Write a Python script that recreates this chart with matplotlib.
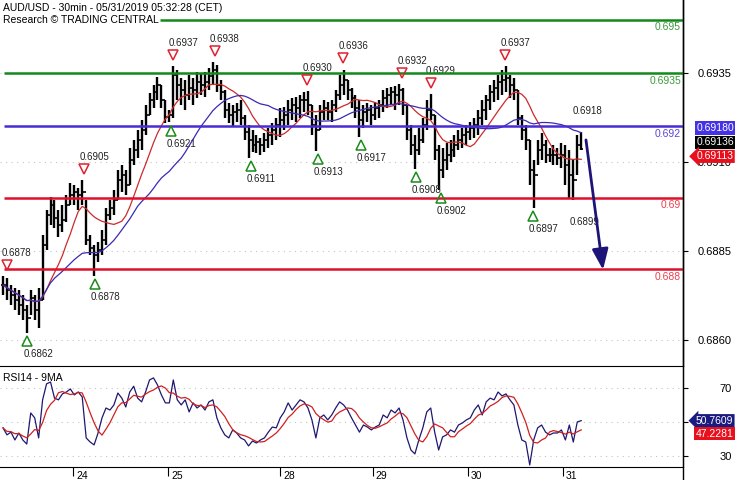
import matplotlib
matplotlib.use("Agg")
import matplotlib.pyplot as plt
from matplotlib.lines import Line2D
from matplotlib.transforms import offset_copy, blended_transform_factory
import numpy as np
import pandas as pd

plt.rcParams['font.family'] = ['Liberation Sans', 'DejaVu Sans']

# hourly bars (high / low / close)
highs = [
    0.68779, 0.68774, 0.68754, 0.68746, 0.68740, 0.68726, 0.68698, 0.68740, 0.68726, 0.68746,
    0.68895, 0.68965, 0.69001, 0.68993, 0.68965, 0.68979, 0.69007, 0.69041, 0.69035, 0.69027,
    0.69049, 0.68993, 0.68895, 0.68867, 0.68875, 0.68909, 0.68971, 0.68993, 0.69021, 0.69077,
    0.69091, 0.69077, 0.69139, 0.69162, 0.69190, 0.69218, 0.69260, 0.69294, 0.69316, 0.69339,
    0.69316, 0.69274, 0.69246, 0.69370, 0.69358, 0.69336, 0.69330, 0.69344, 0.69336, 0.69353,
    0.69347, 0.69353, 0.69364, 0.69381, 0.69372, 0.69330, 0.69302, 0.69266, 0.69260, 0.69266,
    0.69274, 0.69232, 0.69204, 0.69190, 0.69176, 0.69167, 0.69181, 0.69195, 0.69209, 0.69223,
    0.69252, 0.69254, 0.69274, 0.69280, 0.69282, 0.69288, 0.69296, 0.69299, 0.69260, 0.69232,
    0.69260, 0.69274, 0.69268, 0.69274, 0.69302, 0.69344, 0.69358, 0.69330, 0.69308, 0.69288,
    0.69274, 0.69260, 0.69266, 0.69260, 0.69268, 0.69274, 0.69302, 0.69308, 0.69311, 0.69313,
    0.69319, 0.69308, 0.69260, 0.69204, 0.69176, 0.69195, 0.69223, 0.69274, 0.69291, 0.69232,
    0.69148, 0.69139, 0.69153, 0.69162, 0.69176, 0.69190, 0.69195, 0.69204, 0.69212, 0.69223,
    0.69246, 0.69274, 0.69288, 0.69316, 0.69330, 0.69344, 0.69358, 0.69370, 0.69344, 0.69336,
    0.69302, 0.69232, 0.69204, 0.69162, 0.69105, 0.69162, 0.69181, 0.69162, 0.69139, 0.69148,
    0.69139, 0.69153, 0.69148, 0.69133, 0.69105, 0.69176, 0.69184,
]
lows = [
    0.68726, 0.68712, 0.68698, 0.68684, 0.68670, 0.68656, 0.68619, 0.68670, 0.68656, 0.68633,
    0.68712, 0.68852, 0.68923, 0.68914, 0.68889, 0.68903, 0.68931, 0.68979, 0.68979, 0.68965,
    0.68979, 0.68867, 0.68838, 0.68779, 0.68819, 0.68838, 0.68867, 0.68937, 0.68951, 0.68993,
    0.69015, 0.69007, 0.69035, 0.69091, 0.69111, 0.69133, 0.69176, 0.69232, 0.69252, 0.69274,
    0.69252, 0.69209, 0.69212, 0.69223, 0.69274, 0.69260, 0.69246, 0.69274, 0.69260, 0.69280,
    0.69288, 0.69282, 0.69302, 0.69316, 0.69296, 0.69274, 0.69223, 0.69209, 0.69198, 0.69212,
    0.69204, 0.69162, 0.69111, 0.69128, 0.69125, 0.69119, 0.69128, 0.69139, 0.69148, 0.69162,
    0.69170, 0.69190, 0.69204, 0.69218, 0.69212, 0.69223, 0.69240, 0.69232, 0.69176, 0.69131,
    0.69190, 0.69218, 0.69218, 0.69212, 0.69240, 0.69274, 0.69288, 0.69274, 0.69252, 0.69223,
    0.69170, 0.69195, 0.69212, 0.69204, 0.69218, 0.69223, 0.69240, 0.69252, 0.69260, 0.69246,
    0.69260, 0.69232, 0.69162, 0.69119, 0.69080, 0.69119, 0.69153, 0.69190, 0.69218, 0.69105,
    0.69021, 0.69055, 0.69077, 0.69100, 0.69114, 0.69133, 0.69139, 0.69148, 0.69162, 0.69167,
    0.69176, 0.69204, 0.69218, 0.69246, 0.69268, 0.69274, 0.69288, 0.69296, 0.69280, 0.69274,
    0.69204, 0.69162, 0.69133, 0.69035, 0.68971, 0.69091, 0.69105, 0.69097, 0.69100, 0.69091,
    0.69091, 0.69083, 0.69035, 0.68999, 0.68993, 0.69063, 0.69133,
]
closes = [
    0.68754, 0.68740, 0.68726, 0.68712, 0.68698, 0.68684, 0.68661, 0.68718, 0.68684, 0.68712,
    0.68867, 0.68951, 0.68979, 0.68942, 0.68923, 0.68937, 0.68979, 0.69007, 0.69015, 0.69007,
    0.69015, 0.68881, 0.68858, 0.68838, 0.68852, 0.68881, 0.68951, 0.68971, 0.68993, 0.69049,
    0.69063, 0.69035, 0.69105, 0.69133, 0.69162, 0.69190, 0.69232, 0.69274, 0.69296, 0.69316,
    0.69274, 0.69226, 0.69232, 0.69344, 0.69316, 0.69302, 0.69288, 0.69308, 0.69302, 0.69325,
    0.69316, 0.69325, 0.69341, 0.69358, 0.69316, 0.69296, 0.69246, 0.69232, 0.69240, 0.69246,
    0.69223, 0.69184, 0.69162, 0.69148, 0.69156, 0.69148, 0.69162, 0.69176, 0.69190, 0.69204,
    0.69218, 0.69232, 0.69246, 0.69260, 0.69252, 0.69274, 0.69274, 0.69260, 0.69204, 0.69190,
    0.69240, 0.69252, 0.69240, 0.69260, 0.69288, 0.69316, 0.69330, 0.69302, 0.69280, 0.69252,
    0.69218, 0.69240, 0.69246, 0.69232, 0.69252, 0.69260, 0.69280, 0.69288, 0.69296, 0.69288,
    0.69302, 0.69260, 0.69190, 0.69148, 0.69133, 0.69162, 0.69204, 0.69246, 0.69232, 0.69133,
    0.69077, 0.69105, 0.69119, 0.69133, 0.69148, 0.69162, 0.69176, 0.69184, 0.69195, 0.69204,
    0.69223, 0.69246, 0.69274, 0.69296, 0.69308, 0.69325, 0.69330, 0.69336, 0.69316, 0.69302,
    0.69223, 0.69190, 0.69162, 0.69077, 0.69063, 0.69133, 0.69148, 0.69119, 0.69119, 0.69119,
    0.69111, 0.69119, 0.69091, 0.69063, 0.69049, 0.69148, 0.69136,
]
rsi = [
    46.5, 42.4, 44.0, 39.4, 43.5, 39.4, 37.0, 55.3, 52.4, 40.6,
    63.0, 72.4, 73.5, 64.0, 63.0, 66.5, 67.6, 69.4, 65.9, 67.6,
    64.7, 40.6, 38.2, 36.5, 43.5, 52.4, 58.2, 57.0, 60.0, 67.0,
    64.0, 58.8, 67.6, 71.0, 64.0, 61.8, 67.6, 74.7, 75.9, 71.8,
    65.9, 61.2, 61.2, 74.7, 63.0, 60.0, 63.0, 55.9, 61.2, 58.2,
    60.0, 57.0, 61.8, 63.0, 52.4, 46.5, 42.4, 40.6, 45.3, 43.5,
    40.6, 39.4, 35.9, 38.8, 37.6, 39.4, 40.6, 44.0, 47.0, 46.5,
    52.4, 55.9, 61.2, 57.0, 60.0, 63.0, 61.8, 58.2, 51.2, 40.6,
    52.4, 54.1, 51.2, 54.1, 58.2, 61.8, 60.0, 57.0, 52.4, 48.2,
    44.0, 48.2, 47.0, 45.3, 47.0, 48.2, 54.1, 52.4, 57.0, 55.3,
    58.2, 51.2, 40.6, 33.5, 31.2, 39.4, 46.5, 55.9, 58.2, 44.0,
    33.5, 41.2, 42.4, 45.3, 44.0, 48.2, 49.4, 51.2, 52.4, 57.0,
    60.0, 54.1, 61.8, 64.0, 63.0, 67.6, 65.3, 66.5, 63.0, 60.0,
    48.2, 39.4, 38.2, 24.7, 39.4, 46.5, 48.2, 44.0, 42.4, 43.5,
    43.5, 45.3, 39.4, 48.2, 38.2, 50.0, 50.76,
]

day_ticks = [17.7, 41.7, 70.0, 93.4, 117.4, 141.4]
day_labels = ['24', '25', '28', '29', '30', '31']

levels = [0.695, 0.6935, 0.692, 0.69, 0.688]
level_labels = ['0.695', '0.6935', '0.692', '0.69', '0.688']
level_start = [39.6, 0.3, 0.3, 0.3, 0.3]
level_colors = ['#13891a', '#13891a', '#4a2cd6', '#e0102c', '#e0102c']
level_text_colors = ['#3a9a3a', '#3a9a3a', '#5a44d8', '#e8404e', '#e8404e']

# swing highs (red) and swing lows (green); last one of each has no triangle
peak_x = [1.0, 20.5, 43.0, 53.5, 76.8, 85.9, 100.8, 108.1, 126.8, 145.2]
peak_y = [0.6878, 0.6905, 0.6937, 0.6938, 0.6930, 0.6936, 0.6932, 0.6929, 0.6937, 0.6918]
trough_x = [6.1, 23.2, 42.4, 62.6, 79.5, 90.4, 104.3, 110.6, 133.8, 144.2]
trough_y = [0.6862, 0.6878, 0.6921, 0.6911, 0.6913, 0.6917, 0.6908, 0.6902, 0.6897, 0.6899]

forecast_x = [147.2, 151.5]
forecast_y = [0.69162, 0.68797]

last_prices = [0.69180, 0.69136, 0.69113]
last_rsi = [50.7609, 47.2281]

W, H = 735, 480
fig = plt.figure(figsize=(W / 100, H / 100), dpi=100)
ax = fig.add_axes([0, 1 - 366 / H, 683 / W, 366 / H])
ax2 = fig.add_axes([0, 1 - 467 / H, 683 / W, 101 / H], sharex=ax)

x = np.arange(len(closes))
opens = [closes[0]] + closes[:-1]

# price bars
ax.vlines(x, lows, highs, color='black', lw=1.7, zorder=3)
ax.hlines(closes, x, x + 0.5, color='black', lw=1.2, zorder=3)
ax.hlines(opens, x - 0.5, x, color='black', lw=1.2, zorder=3)

s = pd.Series(closes)
ax.plot(x, s.rolling(10, min_periods=1).mean(), color='#cc2a2a', lw=0.9, zorder=4)
ax.plot(x, s.rolling(25, min_periods=1).mean(), color='#3a2ab4', lw=0.9, zorder=4)

xmax = 171.7
ax.set_xlim(-0.76, xmax)
ax.set_ylim(0.68527, 0.69555)

for v in [0.686, 0.6885, 0.691, 0.6935]:
    ax.axhline(v, color='#c4c4c4', lw=0.8, ls=(0, (1, 4)), zorder=0)

for lv, lab, st, c, tc in zip(levels, level_labels, level_start, level_colors, level_text_colors):
    ax.hlines(lv, st, xmax, color=c, lw=1.8, zorder=5)
    ax.annotate(lab, xy=(1, lv), xycoords=('axes fraction', 'data'), xytext=(-1.5, -2),
                textcoords='offset points', ha='right', va='top', color=tc, fontsize=7.5)

tri_up = offset_copy(ax.transData, fig=fig, x=0, y=11, units='dots')
lab_up = offset_copy(ax.transData, fig=fig, x=-5, y=23, units='dots')
tri_dn = offset_copy(ax.transData, fig=fig, x=0, y=-8, units='dots')
lab_dn = offset_copy(ax.transData, fig=fig, x=-4, y=-21, units='dots')

ax.plot(peak_x[:-1], peak_y[:-1], ls='', marker='v', ms=7, mfc='none', mec='#e0202e',
        mew=1.1, transform=tri_up, zorder=6)
ax.plot(trough_x[:-1], trough_y[:-1], ls='', marker='^', ms=7, mfc='none', mec='#1a8a1a',
        mew=1.1, transform=tri_dn, zorder=6)
for px, py in zip(peak_x, peak_y):
    ax.text(px, py, f'{py:.4f}', transform=lab_up, ha='left', va='center', fontsize=7, color='#222222')
for px, py in zip(trough_x, trough_y):
    ax.text(px, py, f'{py:.4f}', transform=lab_dn, ha='left', va='center', fontsize=7, color='#222222')

ax.annotate('', xy=(forecast_x[1], forecast_y[1]), xytext=(forecast_x[0], forecast_y[0]),
            arrowprops=dict(arrowstyle='-|>,head_length=0.9,head_width=0.35', color='#1e1478',
                            lw=2, mutation_scale=14, shrinkA=0, shrinkB=0), zorder=7)

# right price scale
ax.yaxis.tick_right()
ax.set_yticks([0.686, 0.6885, 0.691, 0.6935])
ax.set_yticklabels(['0.6860', '0.6885', '0.6910', '0.6935'])
ax.tick_params(axis='y', direction='out', length=3.6, width=0.8, labelsize=8, pad=31.5)
for t in ax.get_yticklabels():
    t.set_ha('right')
ax.tick_params(axis='x', bottom=False, labelbottom=False)
for side in ['left', 'top', 'bottom']:
    ax.spines[side].set_visible(False)
ax.spines['right'].set_linewidth(1)

box_dy = [5.5, 7, 1]
box_colors = ['#4432e6', 'black', '#e8101c']
box_styles = ['square,pad=0.15', 'square,pad=0.15', 'larrow,pad=0.15']
for v, dy, c, bs in zip(last_prices, box_dy, box_colors, box_styles):
    ax.annotate(f'{v:.5f}', xy=(1, v), xycoords=('axes fraction', 'data'), xytext=(9.5, dy * 0.72),
                textcoords='offset points', ha='left', va='center', color='white', fontsize=7.5,
                bbox=dict(boxstyle=bs, fc=c, ec='none'), annotation_clip=False, zorder=10)

fig.text(3 / W, 1 - 8 / H, 'AUD/USD - 30min - 05/31/2019 05:32:28 (CET)', fontsize=7.5, va='center')
fig.text(3 / W, 1 - 20 / H, 'Research \u00a9 TRADING CENTRAL', fontsize=7.5, va='center')

# RSI panel
ax2.plot(x, rsi, color='#1e1870', lw=0.9, zorder=3)
ax2.plot(x, pd.Series(rsi).rolling(5, min_periods=1).mean(), color='#d02020', lw=0.9, zorder=4)
ax2.set_ylim(23.5, 82.9)
for v in [30, 50, 70]:
    ax2.axhline(v, color='#c4c4c4', lw=0.8, ls=(0, (1, 4)), zorder=0)
ax2.yaxis.tick_right()
ax2.set_yticks([30, 50, 70])
ax2.set_yticklabels(['30', '', '70'])
ax2.tick_params(axis='y', direction='out', length=3.6, width=0.8, labelsize=8, pad=31.5)
for t in ax2.get_yticklabels():
    t.set_ha('right')
ax2.set_xticks(day_ticks)
ax2.tick_params(axis='x', direction='out', length=6.5, width=0.8, labelbottom=False)
bt = offset_copy(blended_transform_factory(ax2.transData, ax2.transAxes), fig=fig, x=3, y=-4, units='dots')
for d, lab in zip(day_ticks, day_labels):
    ax2.text(d, 0, lab, transform=bt, ha='left', va='top', fontsize=7.5)
ax2.spines['left'].set_visible(False)
ax2.text(3 / 683, 1 - 12 / 101, 'RSI14 - 9MA', transform=ax2.transAxes, fontsize=7.5, va='center')

rsi_dy = [0, -7]
rsi_colors = ['#1a1a80', '#e8101c']
rsi_styles = ['larrow,pad=0.15', 'square,pad=0.15']
for v, dy, c, bs in zip(last_rsi, rsi_dy, rsi_colors, rsi_styles):
    ax2.annotate(f'{v:.4f}', xy=(1, v), xycoords=('axes fraction', 'data'), xytext=(9, dy * 0.72),
                 textcoords='offset points', ha='left', va='center', color='white', fontsize=7.5,
                 bbox=dict(boxstyle=bs, fc=c, ec='none'), annotation_clip=False, zorder=10)

fig.add_artist(Line2D([683 / W, 683 / W], [0, 1], color='black', lw=1, transform=fig.transFigure))

fig.savefig('out.png', dpi=100)
